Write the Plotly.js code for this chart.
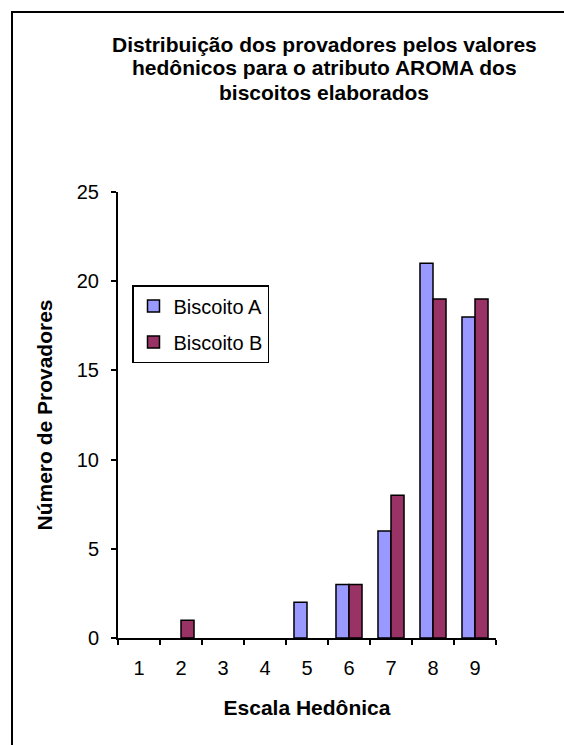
<!DOCTYPE html>
<html>
<head>
<meta charset="utf-8">
<script src="https://cdn.plot.ly/plotly-3.0.1.min.js"></script>
<style>
html,body{margin:0;padding:0;background:#fff;}
#chart{width:564px;height:745px;}
#chart .legend .legendpoints path{stroke:#000 !important;stroke-width:1.5px !important;}
</style>
</head>
<body>
<div id="chart"></div>
<script>
const categories = ['1','2','3','4','5','6','7','8','9'];
const biscoitoA = [0, 0, 0, 0, 2, 3, 6, 21, 18];
const biscoitoB = [0, 1, 0, 0, 0, 3, 8, 19, 19];
const seriesNames = ['Biscoito A', 'Biscoito B'];
const titleLines = ['Distribuição dos provadores pelos valores',
                    'hedônicos para o atributo AROMA dos',
                    'biscoitos elaborados'];
const xTitle = 'Escala Hedônica';
const yTitle = 'Número de Provadores';

const font = 'Arial, "Liberation Sans", sans-serif';
const outline = v => v === 0 ? 0 : 1.5;

const traces = [
  {type:'bar', x:categories, y:biscoitoA, name:seriesNames[0], legendgroup:'a',
   marker:{color:'#9999FF', line:{color:'#000', width:biscoitoA.map(outline)}}},
  {type:'bar', x:categories, y:biscoitoB, name:seriesNames[1], legendgroup:'b',
   marker:{color:'#993366', line:{color:'#000', width:biscoitoB.map(outline)}}}
];

const L=118, R=496, T=192, B=638;
const py = px => (B - px) / (B - T);
const pxX = px => (px - L) / (R - L);
const titleCenters = [44.5, 67.5, 92];

const layout = {
  width:564, height:745,
  margin:{l:L, r:564-R, t:T, b:745-B, pad:0},
  paper_bgcolor:'#fff', plot_bgcolor:'#fff',
  font:{family:font, size:20, color:'#000'},
  barmode:'group', bargap:0.38, bargroupgap:0,
  xaxis:{type:'category', showline:true, linecolor:'#000', linewidth:2,
         ticks:'outside', tickson:'boundaries', ticklen:5, tickcolor:'#000', tickwidth:2,
         ticklabelstandoff:11, showgrid:false, zeroline:false,
         tickfont:{size:20},
         title:{text:xTitle, standoff:22, font:{size:21, weight:'bold'}}},
  yaxis:{range:[0,25], dtick:5, showline:true, linecolor:'#000', linewidth:2,
         ticks:'outside', ticklen:5, tickcolor:'#000', tickwidth:2,
         ticklabelstandoff:8, showgrid:false, zeroline:false,
         tickfont:{size:20},
         title:{text:yTitle, standoff:18, font:{size:21, weight:'bold'}}},
  showlegend:true,
  legend:{x:pxX(132), y:py(285), xanchor:'left', yanchor:'top',
          bordercolor:'#000', borderwidth:1.5, bgcolor:'#fff',
          traceorder:'grouped', tracegroupgap:7,
          font:{size:20}, itemwidth:30},
  annotations: titleLines.map((t, i) => ({
    text:t, xref:'paper', yref:'paper', x:pxX(324), y:py(titleCenters[i]),
    xanchor:'center', yanchor:'middle', showarrow:false,
    font:{family:font, size:21, color:'#000', weight:'bold'}
  })),
  shapes:[{type:'rect', xref:'paper', yref:'paper', layer:'below',
           x0:pxX(12), x1:2, y0:-1, y1:py(12),
           line:{color:'#000', width:2}, fillcolor:'rgba(0,0,0,0)'}]
};

Plotly.newPlot('chart', traces, layout, {displayModeBar:false, staticPlot:true});
</script>
</body>
</html>
